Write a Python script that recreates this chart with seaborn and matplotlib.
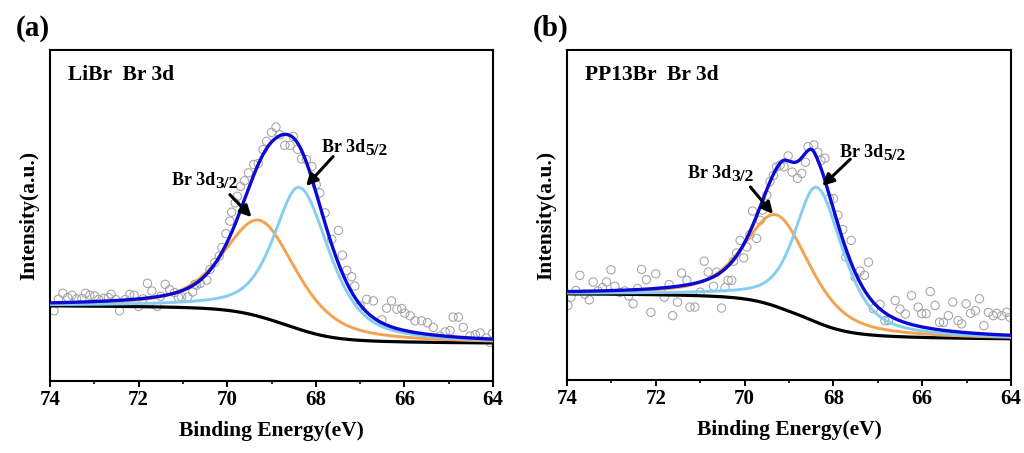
import numpy as np
import pandas as pd
import matplotlib
matplotlib.use("Agg")
import matplotlib.pyplot as plt
import seaborn as sns

# ---------------- measured Br 3d spectra (binding energy, counts in a.u.) ----------------
libr_be = [73.91, 73.81, 73.71, 73.60, 73.50, 73.40, 73.28, 73.20, 73.10, 72.99,
           72.90, 72.78, 72.68, 72.62, 72.52, 72.43, 72.30, 72.20, 72.10, 72.00,
           71.90, 71.80, 71.70, 71.58, 71.50, 71.40, 71.30, 71.19, 71.10, 71.03,
           70.89, 70.78, 70.73, 70.69, 70.61, 70.46, 70.39, 70.28, 70.18, 70.12,
           70.03, 69.94, 69.90, 69.82, 69.77, 69.70, 69.61, 69.52, 69.40, 69.30,
           69.19, 69.11, 69.00, 68.90, 68.81, 68.70, 68.58, 68.51, 68.41, 68.32,
           68.21, 68.09, 67.99, 67.91, 67.79, 67.64, 67.49, 67.40, 67.30, 67.19,
           67.12, 67.00, 66.85, 66.70, 66.51, 66.40, 66.29, 66.17, 66.06, 65.99,
           65.87, 65.76, 65.61, 65.48, 65.35, 65.20, 65.08, 64.97, 64.90, 64.78,
           64.67, 64.52, 64.40, 64.29, 64.15, 64.07, 64.01]
libr_int = [21.2, 24.7, 26.5, 25.2, 25.9, 24.8, 24.9, 26.5, 25.9, 25.7,
            24.6, 25.0, 25.2, 26.2, 24.6, 21.2, 24.6, 26.2, 25.9, 22.5,
            24.8, 29.5, 27.2, 22.5, 25.6, 29.2, 27.6, 26.7, 25.2, 25.4,
            25.4, 26.9, 29.2, 28.9, 29.5, 30.5, 33.7, 35.8, 37.7, 40.3,
            44.5, 48.3, 51.0, 53.8, 55.8, 58.8, 60.5, 62.9, 65.4, 65.7,
            69.9, 72.4, 75.1, 76.7, 74.4, 71.2, 71.2, 73.9, 70.0, 67.1,
            66.9, 64.8, 59.3, 56.8, 50.8, 42.8, 45.5, 38.0, 33.4, 31.5,
            28.7, 22.7, 24.7, 24.2, 18.5, 22.0, 24.2, 21.7, 21.9, 20.5,
            19.7, 18.2, 18.2, 17.6, 16.2, 13.6, 14.8, 15.2, 19.3, 19.3,
            16.2, 13.6, 14.0, 14.5, 13.0, 11.7, 14.4]

pp13_be = [73.98, 73.91, 73.80, 73.71, 73.60, 73.50, 73.41, 73.30, 73.20, 73.11,
           73.01, 72.92, 72.81, 72.70, 72.61, 72.51, 72.41, 72.32, 72.21, 72.11,
           72.00, 71.90, 71.81, 71.70, 71.62, 71.51, 71.42, 71.30, 71.23, 71.12,
           71.00, 70.91, 70.82, 70.70, 70.63, 70.52, 70.44, 70.37, 70.29, 70.25,
           70.18, 70.10, 70.02, 69.95, 69.88, 69.82, 69.73, 69.65, 69.59, 69.50,
           69.43, 69.35, 69.28, 69.20, 69.11, 69.02, 68.93, 68.81, 68.71, 68.63,
           68.57, 68.44, 68.35, 68.28, 68.19, 68.09, 68.00, 67.90, 67.79, 67.72,
           67.60, 67.51, 67.40, 67.30, 67.21, 67.10, 66.95, 66.84, 66.76, 66.61,
           66.50, 66.38, 66.24, 66.09, 66.01, 65.91, 65.82, 65.71, 65.61, 65.52,
           65.41, 65.31, 65.19, 65.11, 65.01, 64.91, 64.80, 64.71, 64.61, 64.51,
           64.40, 64.32, 64.21, 64.10, 64.02]
pp13_int = [22.6, 25.1, 27.1, 31.7, 26.0, 24.3, 29.7, 27.0, 28.0, 29.7,
            33.4, 28.4, 26.5, 27.0, 25.5, 23.1, 27.7, 33.5, 30.4, 20.5,
            32.2, 27.0, 25.1, 28.9, 19.5, 23.6, 32.4, 30.2, 22.1, 22.1,
            26.6, 36.0, 32.7, 28.4, 32.7, 21.8, 28.0, 30.2, 30.2, 36.0,
            38.5, 42.3, 37.0, 40.3, 44.0, 51.2, 42.9, 48.4, 51.5, 56.0,
            60.1, 62.0, 64.6, 65.1, 64.6, 67.9, 63.0, 61.1, 62.6, 66.0,
            70.7, 71.2, 69.0, 66.5, 67.2, 55.0, 55.0, 50.0, 45.6, 37.3,
            42.3, 31.2, 33.0, 31.7, 35.7, 21.6, 22.9, 18.0, 18.0, 24.1,
            21.5, 20.0, 25.6, 22.1, 20.1, 20.1, 26.8, 22.6, 17.5, 17.5,
            19.5, 23.6, 18.0, 17.0, 23.1, 20.2, 21.0, 24.6, 16.5, 20.5,
            19.5, 20.2, 19.5, 20.5, 19.0]

# ---------------- peak-fit parameters ----------------
# split pseudo-Voigt: centre (eV), height, half width on the high-BE side,
# half width on the low-BE side, Lorentzian fraction
# order of every list: [Br 3d3/2, Br 3d5/2]
libr_center = [69.26, 68.36]
libr_height = [29.1, 42.9]
libr_hw_hi = [0.98, 0.70]
libr_hw_lo = [0.98, 0.80]
libr_eta = [0.6, 0.6]
# cumulative fit envelope
libr_env_center = [69.20, 68.36]
libr_env_height = [29.6, 41.2]
libr_env_hw_hi = [0.82, 0.80]
libr_env_hw_lo = [0.80, 0.82]
libr_env_eta = [0.55, 0.55]
# Shirley background end points (74 eV, 64 eV)
libr_bg_ends = [22.7, 11.5]

pp13_center = [69.27, 68.37]
pp13_height = [27.8, 40.9]
pp13_hw_hi = [0.87, 0.60]
pp13_hw_lo = [0.87, 0.70]
pp13_eta = [0.6, 0.6]
pp13_env_center = [69.20, 68.42]
pp13_env_height = [35.0, 41.9]
pp13_env_hw_hi = [0.70, 0.45]
pp13_env_hw_lo = [0.50, 0.75]
pp13_env_eta = [0.7, 0.7]
pp13_bg_ends = [26.1, 12.5]

x_ticks = [74, 72, 70, 68, 66, 64]
x_minor = [73, 71, 69, 67, 65]
panel_tags = ["(a)", "(b)"]
sample_names = ["LiBr  Br 3d", "PP13Br  Br 3d"]
peak_main = ["Br 3d", "Br 3d"]
peak_sub = ["3/2", "5/2"]

C_ENV = "#0a0ad4"
C_32 = "#f4a24e"
C_52 = "#87cdf2"
C_BG = "#000000"
C_PTS = "#a3a3a3"


def split_pv(e, c, h, hw_hi, hw_lo, eta):
    hw = np.where(e >= c, hw_hi, hw_lo)
    u = (e - c) / hw
    lor = 1.0 / (1.0 + u ** 2)
    gau = np.exp(-np.log(2.0) * u ** 2)
    return h * (eta * lor + (1.0 - eta) * gau)


def shirley(e, signal, hi, lo):
    # e ascending: integrate the peak area from the low-BE end upwards
    area = np.concatenate([[0.0], np.cumsum(0.5 * (signal[1:] + signal[:-1]) * np.diff(e))])
    return lo + (hi - lo) * area / area[-1]


sns.set_style("ticks")
plt.rcParams["font.family"] = ["Liberation Serif", "DejaVu Serif"]
plt.rcParams["font.weight"] = "bold"
for key in ("text.color", "axes.labelcolor", "xtick.color", "ytick.color", "axes.edgecolor"):
    plt.rcParams[key] = "black"

fig = plt.figure(figsize=(10.24, 4.53), dpi=100)
fig.patch.set_facecolor("white")
rects = [[50 / 1024, 1 - 381 / 453, 443 / 1024, 331 / 453],
         [567 / 1024, 1 - 380 / 453, 444 / 1024, 330 / 453]]

panels = [
    dict(be=libr_be, inten=libr_int,
         comp=(libr_center, libr_height, libr_hw_hi, libr_hw_lo, libr_eta),
         env=(libr_env_center, libr_env_height, libr_env_hw_hi, libr_env_hw_lo, libr_env_eta),
         bg=libr_bg_ends,
         ann=[((71.25, 59.3), (69.94, 56.3), (69.45, 49.5)),
              ((67.86, 69.3), (67.61, 67.8), (68.22, 58.9))]),
    dict(be=pp13_be, inten=pp13_int,
         comp=(pp13_center, pp13_height, pp13_hw_hi, pp13_hw_lo, pp13_eta),
         env=(pp13_env_center, pp13_env_height, pp13_env_hw_hi, pp13_env_hw_lo, pp13_env_eta),
         bg=pp13_bg_ends,
         ann=[((71.27, 61.2), (69.87, 58.5), (69.36, 50.3)),
              ((67.85, 67.6), (67.62, 66.9), (68.25, 58.8))]),
]

e = np.linspace(64.0, 74.0, 1201)

for i, p in enumerate(panels):
    ax = fig.add_axes(rects[i])

    env_c, env_h, env_hh, env_hl, env_eta = p["env"]
    env_peaks = sum(split_pv(e, env_c[k], env_h[k], env_hh[k], env_hl[k], env_eta[k])
                    for k in range(2))
    bg = shirley(e, env_peaks, p["bg"][0], p["bg"][1])
    envelope = bg + env_peaks

    cc, ch, chh, chl, ceta = p["comp"]
    comp32 = bg + split_pv(e, cc[0], ch[0], chh[0], chl[0], ceta[0])
    comp52 = bg + split_pv(e, cc[1], ch[1], chh[1], chl[1], ceta[1])

    raw = pd.DataFrame({"be": p["be"], "counts": p["inten"]})
    sns.scatterplot(data=raw, x="be", y="counts", ax=ax, marker="o", s=36,
                    color=C_PTS, linewidth=0.75, zorder=1, legend=False)
    pts = ax.collections[-1]
    pts.set_facecolor("none")
    pts.set_edgecolor(C_PTS)

    fit = pd.DataFrame({"be": e, "bg": bg, "d32": comp32, "d52": comp52, "env": envelope})
    sns.lineplot(data=fit, x="be", y="bg", ax=ax, color=C_BG, lw=2.3, zorder=3)
    sns.lineplot(data=fit, x="be", y="d32", ax=ax, color=C_32, lw=2.1, zorder=4)
    sns.lineplot(data=fit, x="be", y="d52", ax=ax, color=C_52, lw=2.1, zorder=5)
    sns.lineplot(data=fit, x="be", y="env", ax=ax, color=C_ENV, lw=2.4, zorder=6)

    ax.set_xlim(74, 64)
    ax.set_ylim(0, 100)
    ax.set_xticks(x_ticks)
    ax.set_xticklabels([str(t) for t in x_ticks])
    ax.set_xticks(x_minor, minor=True)
    ax.set_yticks([])
    ax.tick_params(axis="x", which="major", direction="out", length=4, width=1.4,
                   labelsize=15, pad=2.5, colors="black")
    ax.tick_params(axis="x", which="minor", direction="out", length=2.4, width=1.2,
                   colors="black")
    for lab in ax.get_xticklabels():
        lab.set_fontweight("bold")
    for sp in ax.spines.values():
        sp.set_visible(True)
        sp.set_linewidth(1.5)
        sp.set_color("black")
    ax.set_xlabel("Binding Energy(eV)", fontsize=15.5, fontweight="bold", labelpad=8,
                  color="black")
    ax.set_ylabel("Intensity(a.u.)", fontsize=15.5, fontweight="bold", labelpad=8,
                  color="black")
    ax.set_facecolor("white")

    ax.text(0.04, 0.925, sample_names[i], transform=ax.transAxes, fontsize=15.5,
            fontweight="bold", ha="left", va="center", color="black")
    fig.text(rects[i][0] - 34 / 1024, 1 - 28 / 453, panel_tags[i], fontsize=21,
             fontweight="bold", ha="left", va="center", color="black")

    for k in range(2):
        txt, tail, head = p["ann"][k]
        t_main = ax.text(txt[0], txt[1], peak_main[k], fontsize=13, fontweight="bold",
                         ha="left", va="baseline", zorder=8, color="black")
        ax.annotate(peak_sub[k], xy=(1, 0), xycoords=t_main, xytext=(0.2, 0.6),
                    textcoords="offset points", fontsize=12.5, fontweight="bold",
                    ha="left", va="baseline", zorder=8, color="black")
        ax.annotate("", xy=head, xytext=tail,
                    arrowprops=dict(arrowstyle="-|>", color="black", lw=2.2,
                                    mutation_scale=17, shrinkA=0, shrinkB=0),
                    zorder=8)

fig.savefig("out.png", dpi=100, facecolor="white")
